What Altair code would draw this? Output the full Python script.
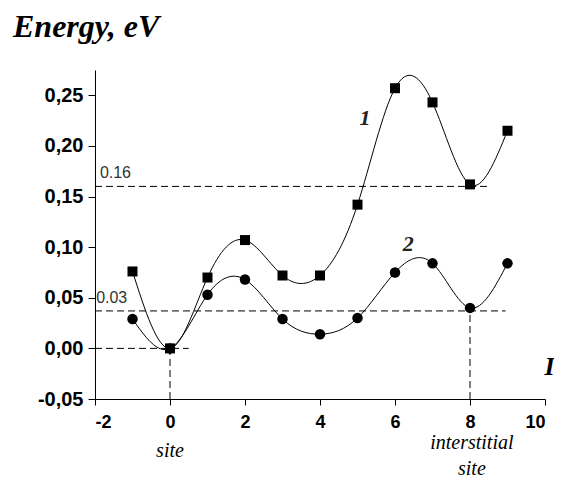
import altair as alt
import pandas as pd

# --- data ---
xs = [-1, 0, 1, 2, 3, 4, 5, 6, 7, 8, 9]
e1 = [0.076, 0.0, 0.070, 0.107, 0.072, 0.072, 0.142, 0.257, 0.243, 0.162, 0.215]
e2 = [0.029, 0.0, 0.053, 0.068, 0.029, 0.014, 0.030, 0.075, 0.084, 0.040, 0.084]

y_ticks = [-0.05, -0.025, 0.0, 0.025, 0.05, 0.075, 0.10, 0.125, 0.15, 0.175, 0.20, 0.225, 0.25, 0.275]
x_ticks = [-2, -1, 0, 1, 2, 3, 4, 5, 6, 7, 8, 9, 10]

# dashed guide lines (x, x2, y, y2)
hx1 = [-2, -2, -2]
hx2 = [8.5, 8.95, 0.5]
hy = [0.16, 0.037, 0.0]
vx = [0, 8]
vy1 = [-0.05, -0.05]
vy2 = [0.0, 0.040]

guide_labels = ["0.16", "0.03"]
guide_lx = [-1.87, -1.97]
guide_ly = [0.168, 0.045]

curve_labels = ["1", "2"]
curve_lx = [5.2, 6.35]
curve_ly = [0.228, 0.103]

site_labels = ["site", "interstitial", "site"]
site_lx = [0.0, 8.05, 8.05]
site_ly = [-0.107, -0.099, -0.125]

df1 = pd.DataFrame({"x": xs, "y": e1})
df2 = pd.DataFrame({"x": xs, "y": e2})
dh = pd.DataFrame({"x": hx1, "x2": hx2, "y": hy})
dv = pd.DataFrame({"x": vx, "y": vy1, "y2": vy2})
dgl = pd.DataFrame({"t": guide_labels, "x": guide_lx, "y": guide_ly})
dcl = pd.DataFrame({"t": curve_labels, "x": curve_lx, "y": curve_ly})
dsl = pd.DataFrame({"t": site_labels, "x": site_lx, "y": site_ly})
dI = pd.DataFrame({"t": ["I"], "x": [10.12], "y": [-0.018]})

xscale = alt.Scale(domain=[-2, 10], nice=False, zero=False)
yscale = alt.Scale(domain=[-0.05, 0.275], nice=False, zero=False)

xaxis = alt.Axis(
    values=x_ticks, title=None, grid=False,
    labelExpr="datum.value % 2 != 0 ? '' : (datum.value < 0 ? '-' : '') + format(abs(datum.value), 'd')",
    tickSize=alt.condition("datum.value % 2 != 0", alt.value(3), alt.value(6)),
    labelFont="Liberation Sans", labelFontWeight="bold", labelFontSize=18,
    labelColor="black", labelPadding=8, domainColor="black", tickColor="black",
)
yaxis = alt.Axis(
    values=y_ticks, title=None, grid=False,
    labelExpr="round(datum.value*40) % 2 != 0 ? '' : (datum.value < 0 ? '-' : '') + replace(format(abs(datum.value), '.2f'), '.', ',')",
    tickSize=alt.condition("round(datum.value*40) % 2 != 0", alt.value(3), alt.value(7)),
    labelFont="Liberation Sans", labelFontWeight="bold", labelFontSize=20,
    labelColor="black", labelPadding=5, domainColor="black", tickColor="black",
)

X = alt.X("x:Q", scale=xscale, axis=xaxis)
Y = alt.Y("y:Q", scale=yscale, axis=yaxis)

line1 = alt.Chart(df1).mark_line(interpolate="natural", color="black", strokeWidth=1).encode(X, Y)
line2 = alt.Chart(df2).mark_line(interpolate="natural", color="black", strokeWidth=1).encode(X, Y)
pts1 = alt.Chart(df1).mark_point(shape="square", filled=True, color="black", opacity=1, size=100).encode(X, Y)
pts2 = alt.Chart(df2).mark_point(shape="circle", filled=True, color="black", opacity=1, size=110).encode(X, Y)

hrules = alt.Chart(dh).mark_rule(color="black", strokeWidth=1, strokeDash=[7, 4]).encode(
    x="x:Q", x2="x2:Q", y="y:Q")
vrules = alt.Chart(dv).mark_rule(color="black", strokeWidth=1, strokeDash=[7, 4]).encode(
    x="x:Q", y="y:Q", y2="y2:Q")

glabels = alt.Chart(dgl).mark_text(
    align="left", baseline="alphabetic", font="Liberation Sans", fontSize=16, color="#333"
).encode(x="x:Q", y="y:Q", text="t:N")

clabels = alt.Chart(dcl).mark_text(
    align="center", baseline="middle", font="Liberation Serif", fontSize=22,
    fontStyle="italic", fontWeight="bold", color="#222"
).encode(x="x:Q", y="y:Q", text="t:N")

slabels = alt.Chart(dsl).mark_text(
    align="center", baseline="alphabetic", font="Liberation Serif", fontSize=20,
    fontStyle="italic", color="black", clip=False
).encode(x="x:Q", y="y:Q", text="t:N")

Ilabel = alt.Chart(dI).mark_text(
    align="center", baseline="middle", font="Liberation Serif", fontSize=26,
    fontStyle="italic", fontWeight="bold", color="black"
).encode(x="x:Q", y="y:Q", text="t:N")

chart = alt.layer(
    hrules, vrules, line1, line2, pts1, pts2, glabels, clabels, slabels, Ilabel
).properties(
    width=450, height=329,
    title=alt.TitleParams(
        "Energy, eV", anchor="start", frame="group", dx=-82, offset=26,
        font="Liberation Serif", fontSize=32, fontStyle="italic", fontWeight="bold",
        color="black",
    ),
    autosize=alt.AutoSizeParams(type="none"),
    padding={"left": 87, "top": 62, "right": 9, "bottom": 81},
).configure_view(stroke=None)

chart.save("out.html", embed_options={"renderer": "svg", "actions": False})
